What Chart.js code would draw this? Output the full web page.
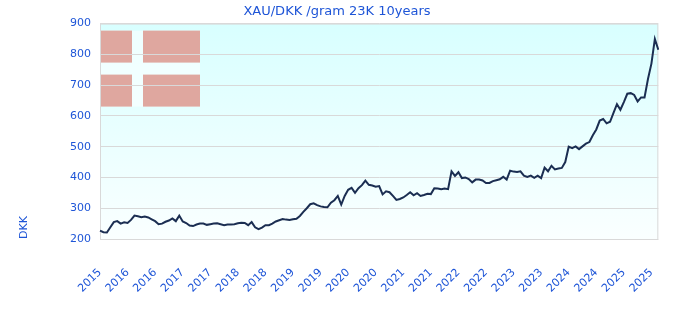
<!DOCTYPE html>
<html>
<head>
<meta charset="utf-8">
<script src="https://cdn.jsdelivr.net/npm/chart.js@4/dist/chart.umd.min.js"></script>
<style>
  body { margin: 0; background: #fff; }
</style>
</head>
<body>
<canvas id="goldChart" width="680" height="320"></canvas>
<script>
// Data untuk chart
const tickLabels = [
  "2015", "2016", "2016", "2017", "2017", "2018", "2018", "2019", "2019",
  "2020", "2020", "2021", "2021", "2022", "2022", "2023", "2023", "2024",
  "2024", "2025", "2025",
];
const pointsPerTick = 8;

// harga DKK per gram
const prices = [
  227, 222, 221, 238, 255, 258, 250, 254, 252, 262,
  276, 274, 271, 273, 270, 264, 258, 248, 250, 256,
  260, 267, 258, 276, 257, 252, 244, 242, 247, 250,
  250, 246, 248, 250, 251, 248, 245, 247, 247, 248,
  251, 253, 252, 245, 255, 238, 232, 237, 245, 245,
  250, 257, 261, 265, 263, 262, 264, 266, 275, 288,
  300, 313, 316, 310, 306, 304, 303, 318, 326, 340,
  312, 340, 360, 366, 350, 365, 375, 390, 376, 374,
  370, 372, 345, 355, 352, 340, 327, 330, 335, 343,
  352, 342, 349, 340, 343, 347, 346, 365, 364, 362,
  364, 362, 420, 405, 417, 398, 400, 395, 384, 393,
  393, 390, 382, 382, 388, 391, 394, 402, 393, 422,
  419, 418, 420, 406, 402, 406, 399, 406, 398, 432,
  420, 438, 426, 429, 431, 450, 500, 495, 501, 492,
  501, 510, 515, 537, 556, 585, 590, 576, 581, 610,
  638, 620, 645, 672, 674, 668, 647, 660, 660, 720,
  770, 850, 815,
];
const categories = prices.map((_, i) => i);

const blue = "rgb(30, 85, 215)";
const gridGray = "#d9d9d9";

// latar belakang gradien + bendera
const bgPlugin = {
  id: "bgPlugin",
  beforeDraw(chart) {
    const { ctx, chartArea: a } = chart;
    ctx.save();
    const g = ctx.createLinearGradient(0, a.top, 0, a.bottom);
    g.addColorStop(0, "rgb(216, 255, 255)");
    g.addColorStop(1, "rgb(250, 255, 255)");
    ctx.fillStyle = g;
    ctx.fillRect(a.left, a.top, a.right - a.left, a.bottom - a.top);

    // bendera Denmark
    const fx = a.left, fy = a.top + 7;
    ctx.fillStyle = "rgba(255, 255, 255, 0.55)";
    ctx.fillRect(fx, fy, 100, 76);
    ctx.fillStyle = "#dfa79f";
    ctx.fillRect(fx, fy, 32, 32);
    ctx.fillRect(fx + 43, fy, 57, 32);
    ctx.fillRect(fx, fy + 44, 32, 32);
    ctx.fillRect(fx + 43, fy + 44, 57, 32);
    ctx.restore();
  },
  beforeDatasetsDraw(chart) {
    const { ctx, chartArea: a } = chart;
    ctx.save();
    ctx.strokeStyle = gridGray;
    ctx.lineWidth = 1;
    ctx.strokeRect(a.left + 0.5, a.top + 0.5, a.right - a.left - 1, a.bottom - a.top);
    ctx.restore();
  },
};

const ctxEl = document.getElementById("goldChart");
const myChart = new Chart(ctxEl, {
  type: "line",
  data: {
    labels: categories,
    datasets: [
      {
        label: "XAU/DKK",
        data: prices,
        borderColor: "#1b2e52",
        borderWidth: 2,
        pointRadius: 0,
        tension: 0,
        fill: false,
      },
    ],
  },
  options: {
    responsive: false,
    animation: false,
    layout: { padding: { left: 14, right: 20, top: 0, bottom: 0 } },
    plugins: {
      legend: { display: false },
      tooltip: { enabled: false },
      title: {
        display: true,
        text: "XAU/DKK /gram 23K 10years",
        color: blue,
        font: { family: "DejaVu Sans", size: 13, weight: "normal" },
        padding: { top: 4, bottom: 4 },
      },
    },
    scales: {
      x: {
        type: "category",
        afterFit: (scale) => {
          scale.height = 81;
        },
        grid: { display: false },
        border: { display: false },
        ticks: {
          autoSkip: false,
          minRotation: 45,
          maxRotation: 45,
          padding: 19,
          color: blue,
          font: { family: "DejaVu Sans", size: 11 },
          callback: (val, i) =>
            i % pointsPerTick === 0 ? tickLabels[i / pointsPerTick] : null,
        },
      },
      y: {
        min: 200,
        max: 900,
        afterFit: (scale) => {
          scale.width = 86;
        },
        grid: { color: gridGray, drawTicks: false },
        border: { display: true, color: gridGray },
        ticks: {
          stepSize: 100,
          padding: 9,
          color: blue,
          font: { family: "DejaVu Sans", size: 11 },
        },
        title: {
          display: true,
          align: "start",
          text: "DKK",
          color: blue,
          font: { family: "DejaVu Sans", size: 11 },
          padding: { top: 4, bottom: 4 },
        },
      },
    },
  },
  plugins: [bgPlugin],
});
</script>
</body>
</html>
